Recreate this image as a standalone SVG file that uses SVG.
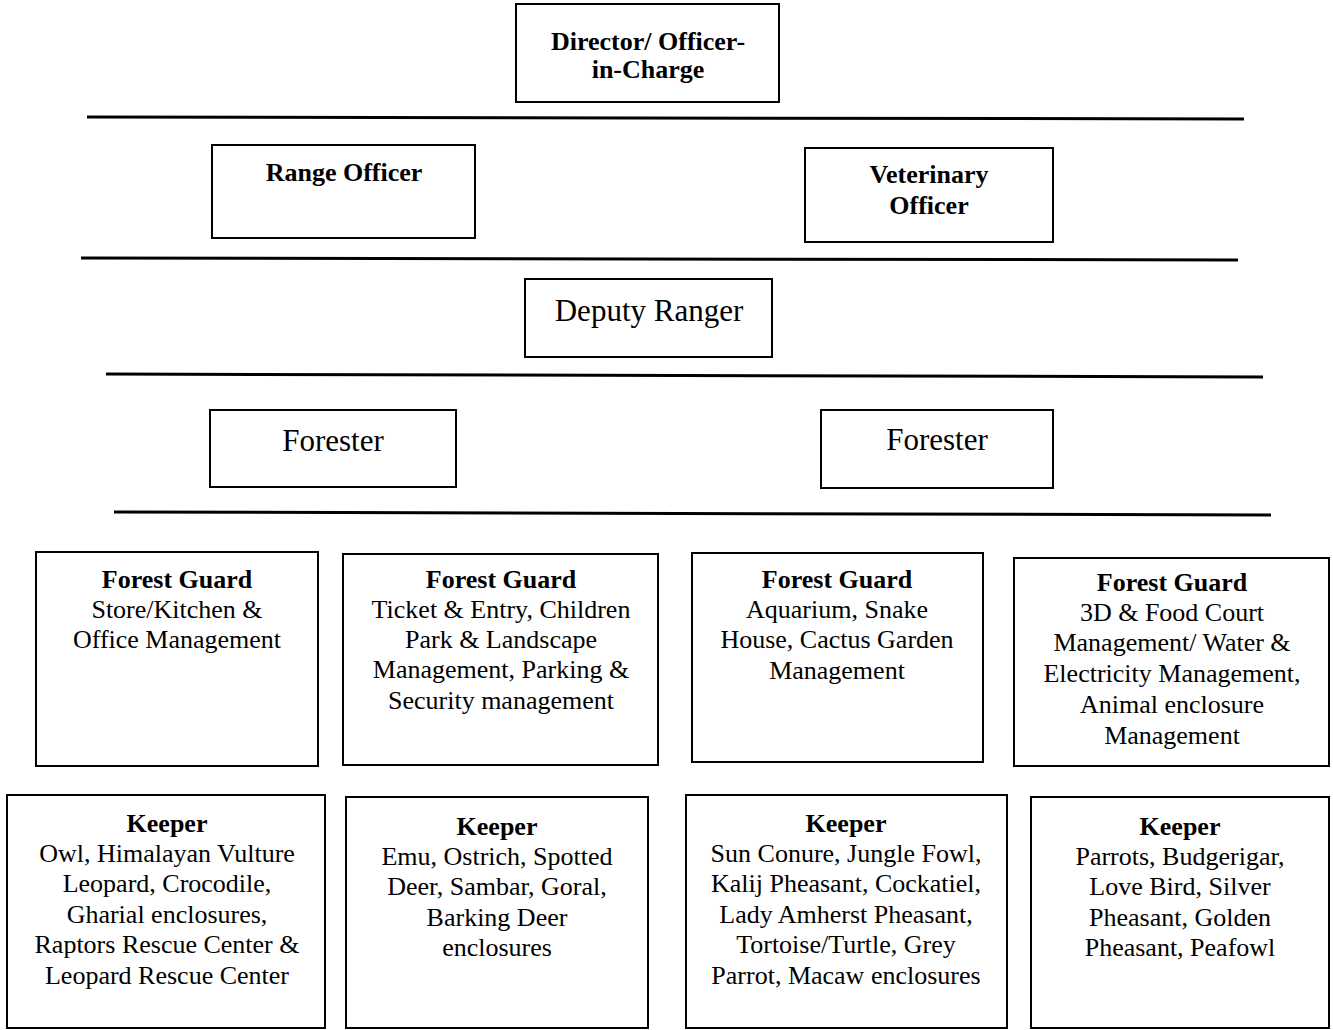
<svg xmlns="http://www.w3.org/2000/svg" width="1333" height="1030" viewBox="0 0 1333 1030">
<style>
  .box { fill: #ffffff; stroke: #000000; stroke-width: 2; }
  .sep { stroke: #000000; stroke-width: 3; fill: none; stroke-linecap: butt; }
  .t { font-family: 'Liberation Serif', 'Times New Roman', Times, serif; fill: #000000; text-anchor: middle; }
  .b { font-weight: bold; font-size: 26px; }
  .r { font-size: 26px; }
  .big { font-size: 31px; }
</style>
<rect width="1333" height="1030" fill="#ffffff"/>
<g id="connectors">
  <line class="sep" x1="87" y1="117" x2="1244" y2="119"/>
  <line class="sep" x1="81" y1="258" x2="1238" y2="260"/>
  <line class="sep" x1="106" y1="374" x2="1263" y2="377"/>
  <line class="sep" x1="114" y1="512" x2="1271" y2="515"/>
</g>
<g class="t" font-family="Liberation Serif, Times New Roman, serif">
<g id="director">
  <rect class="box" x="516" y="4" width="263" height="98"/>
  <text class="b" x="648" y="50">Director/ Officer-</text>
  <text class="b" x="648" y="78">in-Charge</text>
</g>
<g id="range-officer">
  <rect class="box" x="212" y="145" width="263" height="93"/>
  <text class="b" x="344" y="181">Range Officer</text>
</g>
<g id="veterinary-officer">
  <rect class="box" x="805" y="148" width="248" height="94"/>
  <text class="b" x="929" y="183">Veterinary</text>
  <text class="b" x="929" y="214">Officer</text>
</g>
<g id="deputy-ranger">
  <rect class="box" x="525" y="279" width="247" height="78"/>
  <text class="big" x="649" y="321">Deputy Ranger</text>
</g>
<g id="forester-left">
  <rect class="box" x="210" y="410" width="246" height="77"/>
  <text class="big" x="333" y="451">Forester</text>
</g>
<g id="forester-right">
  <rect class="box" x="821" y="410" width="232" height="78"/>
  <text class="big" x="937" y="450">Forester</text>
</g>
<g id="forest-guard-1">
  <rect class="box" x="36" y="552" width="282" height="214"/>
  <text class="b" x="177" y="588">Forest Guard</text>
  <text class="r" x="177" y="618">Store/Kitchen &amp;</text>
  <text class="r" x="177" y="648">Office Management</text>
</g>
<g id="forest-guard-2">
  <rect class="box" x="343" y="554" width="315" height="211"/>
  <text class="b" x="501" y="588">Forest Guard</text>
  <text class="r" x="501" y="618">Ticket &amp; Entry, Children</text>
  <text class="r" x="501" y="648">Park &amp; Landscape</text>
  <text class="r" x="501" y="678">Management, Parking &amp;</text>
  <text class="r" x="501" y="709">Security management</text>
</g>
<g id="forest-guard-3">
  <rect class="box" x="692" y="553" width="291" height="209"/>
  <text class="b" x="837" y="588">Forest Guard</text>
  <text class="r" x="837" y="618">Aquarium, Snake</text>
  <text class="r" x="837" y="648">House, Cactus Garden</text>
  <text class="r" x="837" y="679">Management</text>
</g>
<g id="forest-guard-4">
  <rect class="box" x="1014" y="558" width="315" height="208"/>
  <text class="b" x="1172" y="591">Forest Guard</text>
  <text class="r" x="1172" y="621">3D &amp; Food Court</text>
  <text class="r" x="1172" y="651">Management/ Water &amp;</text>
  <text class="r" x="1172" y="682">Electricity Management,</text>
  <text class="r" x="1172" y="713">Animal enclosure</text>
  <text class="r" x="1172" y="744">Management</text>
</g>
<g id="keeper-1">
  <rect class="box" x="7" y="795" width="318" height="233"/>
  <text class="b" x="167" y="832">Keeper</text>
  <text class="r" x="167" y="862">Owl, Himalayan Vulture</text>
  <text class="r" x="167" y="892">Leopard, Crocodile,</text>
  <text class="r" x="167" y="923">Gharial enclosures,</text>
  <text class="r" x="167" y="953">Raptors Rescue Center &amp;</text>
  <text class="r" x="167" y="984">Leopard Rescue Center</text>
</g>
<g id="keeper-2">
  <rect class="box" x="346" y="797" width="302" height="231"/>
  <text class="b" x="497" y="835">Keeper</text>
  <text class="r" x="497" y="865">Emu, Ostrich, Spotted</text>
  <text class="r" x="497" y="895">Deer, Sambar, Goral,</text>
  <text class="r" x="497" y="926">Barking Deer</text>
  <text class="r" x="497" y="956">enclosures</text>
</g>
<g id="keeper-3">
  <rect class="box" x="686" y="795" width="321" height="233"/>
  <text class="b" x="846" y="832">Keeper</text>
  <text class="r" x="846" y="862">Sun Conure, Jungle Fowl,</text>
  <text class="r" x="846" y="892">Kalij Pheasant, Cockatiel,</text>
  <text class="r" x="846" y="923">Lady Amherst Pheasant,</text>
  <text class="r" x="846" y="953">Tortoise/Turtle, Grey</text>
  <text class="r" x="846" y="984">Parrot, Macaw enclosures</text>
</g>
<g id="keeper-4">
  <rect class="box" x="1031" y="797" width="298" height="231"/>
  <text class="b" x="1180" y="835">Keeper</text>
  <text class="r" x="1180" y="865">Parrots, Budgerigar,</text>
  <text class="r" x="1180" y="895">Love Bird, Silver</text>
  <text class="r" x="1180" y="926">Pheasant, Golden</text>
  <text class="r" x="1180" y="956">Pheasant, Peafowl</text>
</g>
</g>
</svg>
